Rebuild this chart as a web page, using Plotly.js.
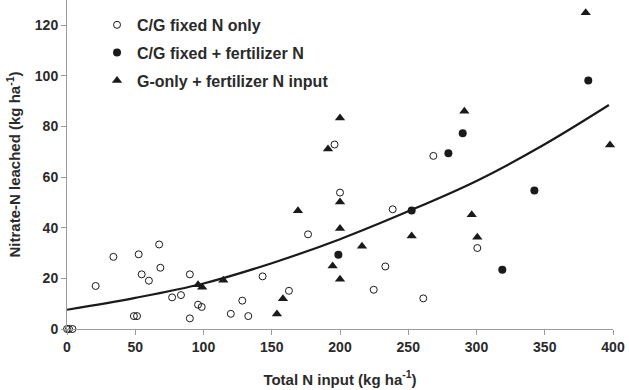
<!DOCTYPE html>
<html>
<head>
<meta charset="utf-8">
<script src="https://cdn.plot.ly/plotly-3.0.1.min.js"></script>
<style>html,body{margin:0;padding:0;background:#fff;}#chart{width:629px;height:390px;}</style>
</head>
<body>
<div id="chart"></div>
<script>
// C/G fixed N only (open circles)
const fixedOnlyX = [0, 1.5, 4, 21, 34, 52.5, 67.5, 54.7, 68.4, 60, 90, 77, 83.5, 96, 98.7, 49, 51.3, 90, 120, 128.4, 132.8, 143.3, 162.6, 176.6, 200, 238.6, 233.2, 224.7, 261, 196, 268.4, 300.6];
const fixedOnlyY = [0, 0, 0, 17, 28.5, 29.5, 33.4, 21.6, 24.2, 19.1, 21.6, 12.5, 13.4, 9.6, 8.7, 5.1, 5.1, 4.2, 6, 11.2, 5.1, 20.8, 15.1, 37.4, 53.9, 47.3, 24.7, 15.5, 12.1, 72.9, 68.4, 32];
// C/G fixed + fertilizer N (filled circles)
const fixedFertX = [198.8, 252.5, 279.4, 289.9, 381.9, 342.4, 318.9];
const fixedFertY = [29.3, 46.8, 69.4, 77.3, 98.2, 54.7, 23.4];
// G-only + fertilizer N input (triangles)
const gOnlyX = [96, 99, 114.5, 153.8, 158.2, 169.2, 200, 200, 194.6, 200, 216.1, 252.5, 200, 191.2, 291.1, 380, 397.8, 296.5, 300.6];
const gOnlyY = [17.5, 16.5, 19.3, 5.9, 12, 46.7, 50.2, 39.7, 24.9, 19.7, 32.7, 36.7, 83.4, 71.1, 86, 125, 72.7, 45.1, 36.3];
// Fitted curve
const curveX = [0, 50, 100, 150, 200, 250, 300, 350, 397];
const curveY = [7.6, 12.3, 18, 26, 35.5, 46.5, 58.5, 73, 88.5];

const names = ['C/G fixed N only', 'C/G fixed + fertilizer N', 'G-only + fertilizer N input'];
const xTicks = [0, 50, 100, 150, 200, 250, 300, 350, 400];
const yTicks = [0, 20, 40, 60, 80, 100, 120];

const FONT = 'Liberation Sans, Arial, Helvetica, sans-serif';
const INK = '#2a2a2a';

const traces = [
  {x: curveX, y: curveY, mode: 'lines', line: {color: '#1a1a1a', width: 2.2, shape: 'spline'}, showlegend: false, hoverinfo: 'skip'},
  {x: fixedOnlyX, y: fixedOnlyY, mode: 'markers', name: names[0], legendgroup: 'a',
   marker: {symbol: 'circle-open', size: 7, color: '#1a1a1a', line: {width: 1}}, cliponaxis: false},
  {x: fixedFertX, y: fixedFertY, mode: 'markers', name: names[1], legendgroup: 'b',
   marker: {symbol: 'circle', size: 8, color: '#1a1a1a'}, cliponaxis: false},
  {x: gOnlyX, y: gOnlyY, mode: 'markers', name: names[2], legendgroup: 'c',
   marker: {symbol: 'triangle-up', size: 9, color: '#1a1a1a'}, cliponaxis: false}
];

const axisCommon = {
  showline: true, linecolor: '#9a9a9a', linewidth: 1,
  ticks: 'outside', ticklen: 5, tickcolor: '#9a9a9a', tickwidth: 1,
  showgrid: false, zeroline: false,
  tickfont: {family: FONT, size: 14, color: INK, weight: 'bold'}
};

const layout = {
  width: 629, height: 390,
  margin: {l: 67, r: 16, t: 0, b: 61},
  paper_bgcolor: '#fff', plot_bgcolor: '#fff',
  xaxis: Object.assign({}, axisCommon, {
    range: [0, 400], tickvals: xTicks, ticktext: xTicks.map(String),
    title: {text: 'Total N input (kg ha<sup>-1</sup>)', font: {family: FONT, size: 15, color: INK, weight: 'bold'}, standoff: 20}
  }),
  yaxis: Object.assign({}, axisCommon, {
    range: [0, 130], tickvals: yTicks, ticktext: yTicks.map(String),
    title: {text: 'Nitrate-N leached (kg ha<sup>-1</sup>)', font: {family: FONT, size: 15, color: INK, weight: 'bold'}, standoff: 10}
  }),
  legend: {
    x: 0.055, y: 0.976, xanchor: 'left', yanchor: 'top',
    font: {family: FONT, size: 16, color: INK, weight: 'bold'},
    bgcolor: 'rgba(0,0,0,0)', tracegroupgap: 4
  },
  showlegend: true
};

Plotly.newPlot('chart', traces, layout, {displayModeBar: false, staticPlot: true});
</script>
</body>
</html>
